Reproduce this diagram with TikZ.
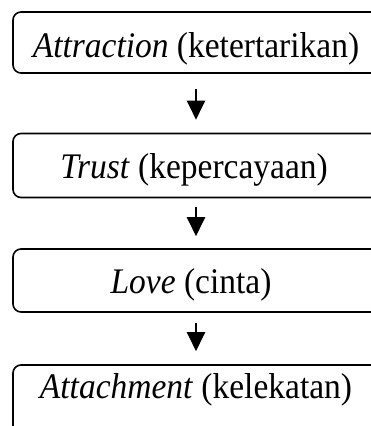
\documentclass[tikz,border=0pt]{standalone}
\usepackage{fontspec}
\setmainfont{Liberation Serif}
\newfontfamily\stagefont[FakeStretch=0.93]{Liberation Serif}
\usetikzlibrary{arrows.meta}
\begin{document}
\begin{tikzpicture}[x=1pt,y=1pt,
  stagebox/.style={draw, line width=1.6pt, rounded corners=8pt, inner sep=0pt},
  stagetext/.style={anchor=base, inner sep=0pt, font=\stagefont\fontsize{36}{42}\selectfont},
  flow/.style={line width=2.2pt, -{Triangle[width=18pt,length=19pt]}}]
\useasboundingbox (0,0) rectangle (371,-426);
% stage boxes (right side runs past the page edge)
\node[stagebox, minimum width=372pt, minimum height=61pt] (b1) at (199,-42.5) {};
\node[stagebox, minimum width=372pt, minimum height=64pt] (b2) at (199,-165.5) {};
\node[stagebox, minimum width=372pt, minimum height=63pt] (b3) at (199,-280.5) {};
\node[stagebox, minimum width=372pt, minimum height=80pt] (b4) at (199,-405) {};
% stage labels
\node[stagetext] (t1) at (196,-57) {\textit{Attraction} (ketertarikan)};
\node[stagetext] (t2) at (194,-178) {\textit{Trust} (kepercayaan)};
\node[stagetext] (t3) at (191,-293) {\textit{Love} (cinta)};
\node[stagetext] (t4) at (196,-398) {\textit{Attachment} (kelekatan)};
% arrows between stages
\draw[flow, shorten <=15pt, shorten >=13pt] ([xshift=-3pt]b1.south) -- ([xshift=-3pt]b2.north);
\draw[flow, shorten <=9pt, shorten >=12pt] ([xshift=-3pt]b2.south) -- ([xshift=-3pt]b3.north);
\draw[flow, shorten <=10pt, shorten >=13pt] ([xshift=-3pt]b3.south) -- ([xshift=-3pt]b4.north);
\end{tikzpicture}
\end{document}
